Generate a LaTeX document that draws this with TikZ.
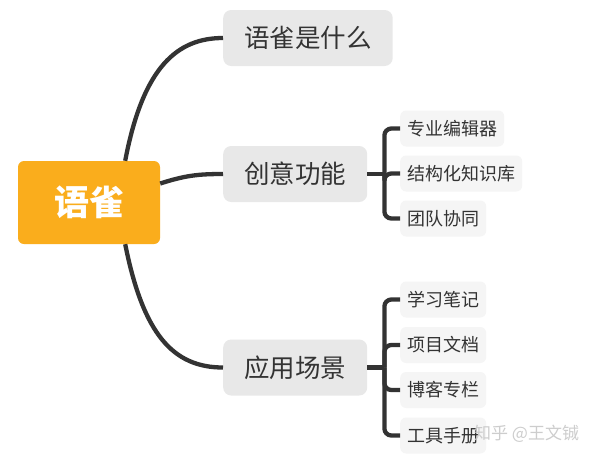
\documentclass[tikz,border=0pt]{standalone}
\usepackage{fontspec}
\setmainfont{Noto Sans CJK SC}
\newfontfamily\cjk{Noto Sans CJK SC}
\usetikzlibrary{calc}
\definecolor{rootorange}{HTML}{FAAD1C}
\definecolor{lvgray}{HTML}{E8E8E8}
\definecolor{leafgray}{HTML}{F5F5F5}
\definecolor{ink}{HTML}{333333}
\definecolor{wm}{HTML}{C8C8C8}
\tikzset{
  rootbox/.style={fill=rootorange, rounded corners=6pt, minimum width=142pt, minimum height=83pt,
    text=white, font=\cjk\bfseries\fontsize{35}{38}\selectfont, inner sep=0pt},
  topicbox/.style={fill=lvgray, rounded corners=8pt, minimum height=56pt, inner xsep=21pt,
    text=ink, font=\cjk\fontsize{25.5}{28}\selectfont, anchor=west},
  leafbox/.style={fill=leafgray, rounded corners=6pt, minimum height=36pt, inner xsep=7pt,
    text=ink, font=\cjk\fontsize{18}{20}\selectfont, anchor=west},
  conn/.style={draw=ink, line width=4.3pt},
  brk/.style={draw=ink, line width=4.3pt, rounded corners=7pt}
}
\begin{document}
\begin{tikzpicture}[x=1pt,y=-1pt]
\useasboundingbox (0,0) rectangle (595,459);
\fill[white] (0,0) rectangle (595,459);

\node[rootbox] (root) at (89,202.5) {语雀};
\node[topicbox] (n1) at (223,38) {语雀是什么};
\node[topicbox] (n2) at (223,174) {创意功能};
\node[topicbox] (n3) at (223,367.5) {应用场景};

\node[leafbox] (a1) at (400,128.5) {专业编辑器};
\node[leafbox] (a2) at (400,173.5) {结构化知识库};
\node[leafbox] (a3) at (400,218.5) {团队协同};

\node[leafbox] (b1) at (400,299.5) {学习笔记};
\node[leafbox] (b2) at (400,345) {项目文档};
\node[leafbox] (b3) at (400,390) {博客专栏};
\node[leafbox] (b4) at (400,435.5) {工具手册};

% root connectors
\coordinate (rt) at ($(root.north east)+(-35,0)$);
\coordinate (rb) at ($(root.south east)+(-35,0)$);
\coordinate (rm) at ($(root.east)+(0,-19)$);
\draw[conn] (rt) .. controls ($(rt)+(18,-95)$) and ($(n1.west)+(-45,0)$) .. (n1.west);
\draw[conn] (rm) .. controls ($(rm)+(25,-8)$) and ($(n2.west)+(-25,0)$) .. (n2.west);
\draw[conn] (rb) .. controls ($(rb)+(18,90)$) and ($(n3.west)+(-50,0)$) .. (n3.west);

% brackets
\coordinate (j2) at ($(n2.east)+(17,0)$);
\draw[conn] (n2.east) -- (j2);
\foreach \l in {a1,a2,a3} { \draw[brk] (j2) |- (\l.west); }

\coordinate (j3) at ($(n3.east)+(17,0)$);
\draw[conn] (n3.east) -- (j3);
\foreach \l in {b1,b2,b3,b4} { \draw[brk] (j3) |- (\l.west); }

% watermark
\node[text=wm, opacity=0.9, font=\cjk\fontsize{17}{19}\selectfont, anchor=west, inner sep=0pt] (wmk) at (474,434) {知乎 @王文铖};
\end{tikzpicture}
\end{document}
